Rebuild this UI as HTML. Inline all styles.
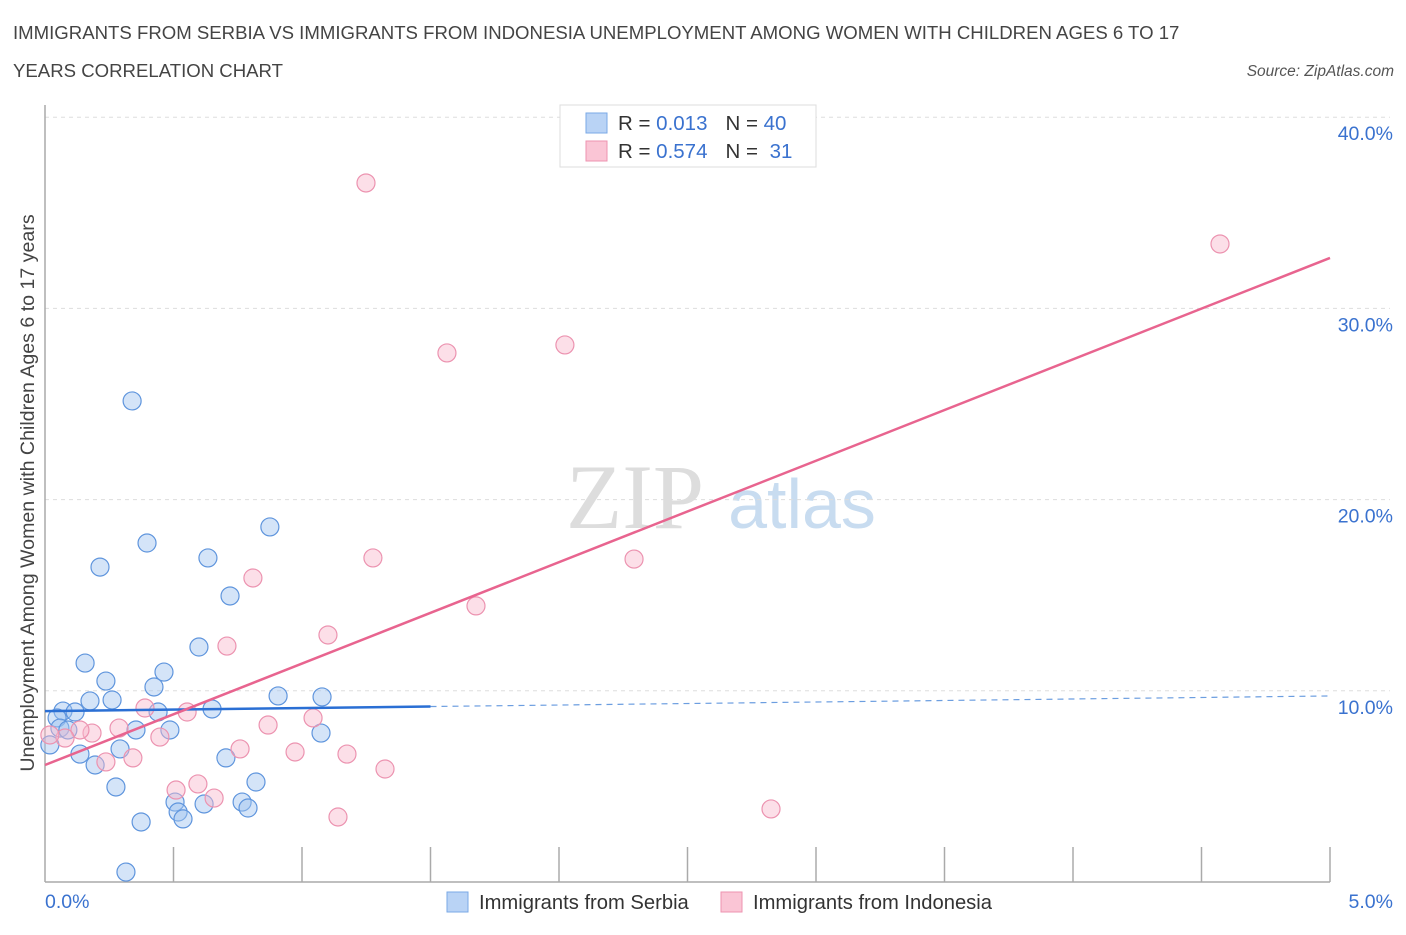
<!DOCTYPE html>
<html><head><meta charset="utf-8"><style>
body{margin:0;background:#fff;font-family:"Liberation Sans",sans-serif;}
svg text{font-family:"Liberation Sans",sans-serif;}
</style></head><body>
<svg id="chart" width="1406" height="930">
<text x="13" y="39" font-size="18.6" fill="#444">IMMIGRANTS FROM SERBIA VS IMMIGRANTS FROM INDONESIA UNEMPLOYMENT AMONG WOMEN WITH CHILDREN AGES 6 TO 17</text>
<text x="13" y="77" font-size="18.6" fill="#444">YEARS CORRELATION CHART</text>
<text x="1394" y="76" font-size="15.5" fill="#555" font-style="italic" text-anchor="end">Source: ZipAtlas.com</text>
<text x="34" y="493" font-size="19.6" fill="#444" text-anchor="middle" transform="rotate(-90 34 493)">Unemployment Among Women with Children Ages 6 to 17 years</text>
<text x="635" y="528" font-size="92" fill="#ddd" style="font-family:'Liberation Serif',serif" text-anchor="middle">ZIP</text>
<text x="802" y="528" font-size="70" fill="#c8dcf0" text-anchor="middle">atlas</text>
<g id="grid"></g>
<g id="axes"></g>
<g id="pts"></g>
<g id="trends"></g>
<g>
<rect x="560" y="105" width="256" height="62" fill="#fff" stroke="#ddd"/>
<rect x="586" y="113" width="21" height="20" fill="#b9d3f5" stroke="#7aa8e6"/>
<rect x="586" y="141" width="21" height="20" fill="#fac5d5" stroke="#ee93b0"/>
<text x="618" y="130" font-size="20.5" fill="#333">R = <tspan fill="#3a72cf">0.013</tspan><tspan dx="18">N = </tspan><tspan fill="#3a72cf">40</tspan></text>
<text x="618" y="158" font-size="20.5" fill="#333">R = <tspan fill="#3a72cf">0.574</tspan><tspan dx="18">N = </tspan><tspan fill="#3a72cf" dx="6">31</tspan></text>
</g>
<g>
<rect x="447" y="892" width="21" height="20" fill="#b9d3f5" stroke="#7aa8e6"/>
<text x="479" y="909" font-size="20.2" fill="#333">Immigrants from Serbia</text>
<rect x="721" y="892" width="21" height="20" fill="#fac5d5" stroke="#ee93b0"/>
<text x="753" y="909" font-size="20.2" fill="#333">Immigrants from Indonesia</text>
</g>
</svg>
<script>
const serbiaX=[0.339,0.397,0.214,0.634,0.875,0.720,0.599,0.156,0.463,0.237,0.424,0.907,1.078,0.175,0.261,0.070,0.117,0.440,0.650,0.047,0.486,0.354,0.058,0.089,1.074,0.292,0.136,0.704,0.195,0.821,0.276,0.506,0.767,0.619,0.790,0.518,0.537,0.374,0.315,0.019];
const serbiaY=[25.16,17.73,16.47,16.95,18.57,14.96,12.29,11.45,10.98,10.51,10.20,9.73,9.68,9.47,9.52,8.94,8.89,8.89,9.05,8.58,7.95,7.95,8.05,7.95,7.79,6.96,6.69,6.49,6.12,5.23,4.97,4.18,4.18,4.08,3.87,3.66,3.30,3.14,0.52,7.17];
const indoX=[1.249,4.572,1.564,2.023,1.276,2.292,0.809,1.677,1.101,0.708,0.389,0.553,1.043,0.868,0.183,0.288,0.447,0.136,0.078,0.759,0.973,1.175,0.342,0.237,1.323,0.510,0.595,0.658,1.140,2.825,0.019];
const indoY=[36.56,33.37,27.67,28.09,16.95,16.89,15.90,14.44,12.92,12.34,9.10,8.89,8.58,8.21,7.79,8.05,7.58,7.95,7.53,6.96,6.80,6.69,6.49,6.28,5.91,4.81,5.13,4.39,3.40,3.82,7.69];
const serbiaTrend=[8.94,9.73];
const indoTrend=[6.12,32.64];
const yTicks=[10,20,30,40];
const yTickLabels=["10.0%","20.0%","30.0%","40.0%"];
const xTickCount=10;
const X0=45,X1=1330,Y0=882,PX=19.12;
const sx=v=>X0+v/5*(X1-X0);
const sy=v=>Y0-v*PX;
const NS="http://www.w3.org/2000/svg";
function mk(tag,attrs,parent){const e=document.createElementNS(NS,tag);for(const k in attrs)e.setAttribute(k,attrs[k]);parent.appendChild(e);return e;}
const grid=document.getElementById('grid'),axes=document.getElementById('axes'),pts=document.getElementById('pts'),tr=document.getElementById('trends');
yTicks.forEach((t,i)=>{
 const l=mk('line',{x1:X0,x2:1390,y1:sy(t),y2:sy(t),stroke:'#ddd','stroke-dasharray':'4,4'},grid);
 
 
 const tx=mk('text',{x:1393,y:sy(t)+23,'font-size':19.5,fill:'#3a72cf','text-anchor':'end'},grid);
 tx.textContent=yTickLabels[i];
 
 
});
const ya=mk('line',{x1:X0,x2:X0,y1:105,y2:Y0,stroke:'#aaa','stroke-width':1.5},axes);


const xa=mk('line',{x1:X0,x2:X1,y1:Y0,y2:Y0,stroke:'#aaa','stroke-width':1.5},axes);


for(let i=1;i<=xTickCount;i++){
 const x=X0+i*(X1-X0)/xTickCount;
 const t=mk('line',{x1:x,x2:x,y1:847,y2:Y0,stroke:'#aaa','stroke-width':1.5},axes);
 
 
}
const xl0=mk('text',{x:45,y:908,'font-size':19.5,fill:'#3a72cf'},axes);xl0.textContent='0.0%';


const xl1=mk('text',{x:1393,y:908,'font-size':19.5,fill:'#3a72cf','text-anchor':'end'},axes);xl1.textContent='5.0%';


serbiaX.forEach((v,i)=>{
 const c=mk('circle',{cx:sx(v),cy:sy(serbiaY[i]),r:9,fill:'rgba(160,195,240,0.45)',stroke:'#5f95dd','stroke-width':1.2},pts);
 
 
});
indoX.forEach((v,i)=>{
 const c=mk('circle',{cx:sx(v),cy:sy(indoY[i]),r:9,fill:'rgba(248,185,205,0.45)',stroke:'#ec93b0','stroke-width':1.2},pts);
 
 
});
const sAt=x=>serbiaTrend[0]+(serbiaTrend[1]-serbiaTrend[0])*x/5;
const bs=mk('line',{x1:sx(0),y1:sy(sAt(0)),x2:sx(1.5),y2:sy(sAt(1.5)),stroke:'#2a6fd4','stroke-width':2.5},tr);


const bd=mk('line',{x1:sx(1.5),y1:sy(sAt(1.5)),x2:sx(5),y2:sy(sAt(5)),stroke:'#6c9ee0','stroke-width':1.2,'stroke-dasharray':'6,5'},tr);


const pl=mk('line',{x1:sx(0),y1:sy(indoTrend[0]),x2:sx(5),y2:sy(indoTrend[1]),stroke:'#e8648f','stroke-width':2.5},tr);


</script>
</body></html>
